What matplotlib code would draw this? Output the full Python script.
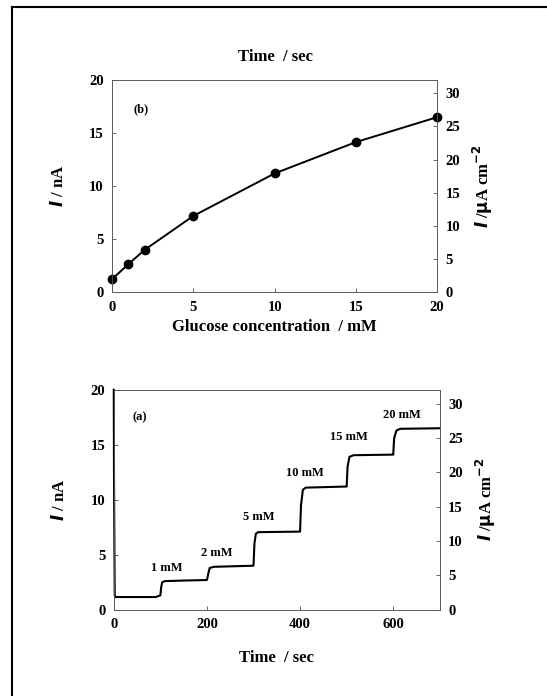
import numpy as np
import matplotlib
matplotlib.use("Agg")
import matplotlib.pyplot as plt
from matplotlib.lines import Line2D

# (b) calibration data
conc = [0, 1, 2, 5, 10, 15, 20]
current_b = [1.25, 2.65, 4.0, 7.2, 11.2, 14.15, 16.5]

# (a) amperometric trace
t_a = [0, 0.5, 2, 4, 90, 100, 102, 104, 110, 150, 200, 203, 206, 215, 300,
       302, 305, 310, 400, 402, 406, 412, 500, 502, 506, 515, 600, 602,
       607, 615, 700]
current_a = [20, 12, 1.3, 1.15, 1.15, 1.3, 2.1, 2.5, 2.6, 2.65, 2.7, 3.3,
             3.8, 3.9, 4.0, 6.0, 6.9, 7.05, 7.1, 9.5, 10.9, 11.1, 11.2, 13.0,
             13.9, 14.05, 14.1, 15.6, 16.3, 16.45, 16.5]
step_labels = ["1 mM", "2 mM", "5 mM", "10 mM", "15 mM", "20 mM"]
step_label_x = [114, 221, 311, 410, 505, 618]
step_label_y = [3.8, 5.2, 8.4, 12.4, 15.7, 17.7]

ratio = 1.6  # uA cm-2 per nA

plt.rcParams['font.family'] = ['Liberation Serif', 'DejaVu Serif']
plt.rcParams['font.weight'] = 'bold'

fig = plt.figure(figsize=(5.47, 6.96), dpi=100)

def style(ax, ax2):
    for a in (ax, ax2):
        for s in a.spines.values():
            s.set_linewidth(0.6)
            s.set_color('0.35')
        a.tick_params(direction='in', length=3, width=0.6, labelsize=10.5,
                      color='0.3', pad=6)
    for lab in ax.get_xticklabels() + ax.get_yticklabels() + ax2.get_yticklabels():
        lab.set_fontweight('bold')

right_label = "$\\mathbfit{I}$ /$\\mathbf{\\mu}$A cm$^{\\mathbf{-2}}$"

# panel (b)
axb = fig.add_axes([0.205, 0.58, 0.594, 0.305])
axb.plot(conc, current_b, color='black', lw=1.4, marker='o', ms=6, clip_on=False, zorder=5)
axb.set_xlim(0, 20)
axb.set_ylim(0, 20)
axb.set_xticks([0, 5, 10, 15, 20])
axb.set_yticks([0, 5, 10, 15, 20])
axb2 = axb.twinx()
axb2.set_ylim(0, 20 * ratio)
axb2.set_yticks([0, 5, 10, 15, 20, 25, 30])
style(axb, axb2)
axb.text(1.8, 17.2, "(b)", fontsize=9, fontweight='bold', ha='center', va='center')
axb.set_xlabel("Glucose concentration  / mM", fontsize=12, fontweight='bold', labelpad=4)
axb.set_ylabel("$\\mathbfit{I}$ / nA", fontsize=12, fontweight='bold', labelpad=16)
axb2.set_ylabel(right_label, fontsize=12, fontweight='bold', labelpad=8)
fig.text(0.503, 0.918, "Time  / sec", fontsize=12, fontweight='bold', ha='center', va='center')

# panel (a)
axa = fig.add_axes([0.208, 0.124, 0.596, 0.316])
axa.plot(t_a, current_a, color='black', lw=1.5, clip_on=False, zorder=5)
axa.set_xlim(0, 700)
axa.set_ylim(0, 20)
axa.set_xticks([0, 200, 400, 600])
axa.set_yticks([0, 5, 10, 15, 20])
axa2 = axa.twinx()
axa2.set_ylim(0, 20 * ratio)
axa2.set_yticks([0, 5, 10, 15, 20, 25, 30])
style(axa, axa2)
axa.text(56, 17.5, "(a)", fontsize=9, fontweight='bold', ha='center', va='center')
for lab, x, y in zip(step_labels, step_label_x, step_label_y):
    axa.text(x, y, lab, fontsize=9, fontweight='bold', ha='center', va='center')
axa.set_xlabel("Time  / sec", fontsize=12, fontweight='bold', labelpad=14)
axa.set_ylabel("$\\mathbfit{I}$ / nA", fontsize=12, fontweight='bold', labelpad=16)
axa2.set_ylabel(right_label, fontsize=12, fontweight='bold', labelpad=8)

# scanned page border
fig.add_artist(Line2D([0.022, 0.022], [0, 0.99], color='black', lw=1.5))
fig.add_artist(Line2D([0.022, 1.0], [0.99, 0.99], color='black', lw=1.5))

fig.savefig("out.png", dpi=100)
